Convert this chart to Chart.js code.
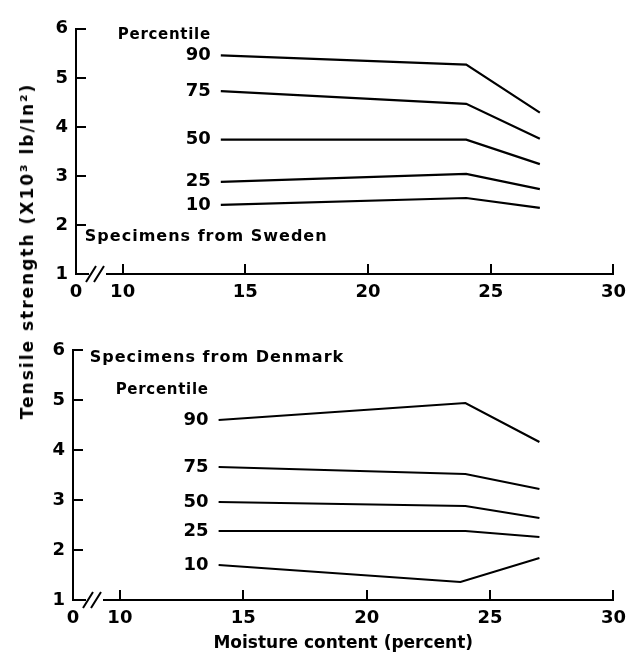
<!DOCTYPE html>
<html>
<head>
<meta charset="utf-8">
<script src="https://cdn.jsdelivr.net/npm/chart.js@4"></script>
<style>
  body { margin: 0; background: #fff; }
  #page { position: relative; width: 644px; height: 656px; }
  .box { position: absolute; left: 0; width: 644px; }
  #ytitle {
    position: absolute; left: 27px; top: 251px;
    transform: translate(-50%, -50%) rotate(-90deg);
    white-space: nowrap;
    font: bold 17px "DejaVu Sans", sans-serif;
    letter-spacing: 2px;
    color: #000;
  }
</style>
</head>
<body>
<div id="page">
  <div class="box" style="top:0;height:310px"><canvas id="sweden"></canvas></div>
  <div class="box" style="top:310px;height:346px"><canvas id="denmark"></canvas></div>
  <div id="ytitle">Tensile strength (X10³ lb/In²)</div>
</div>
<script>
// moisture content (percent) at which the percentile lines are given
const moisture = [14, 24, 27];
const moistureDk10 = [14, 23.8, 27];
const percentiles = ["90", "75", "50", "25", "10"];

// Sweden, tensile strength x10^3 lb/in^2
const swe90 = [5.46, 5.27, 4.29];
const swe75 = [4.73, 4.47, 3.76];
const swe50 = [3.74, 3.74, 3.24];
const swe25 = [2.88, 3.04, 2.73];
const swe10 = [2.41, 2.55, 2.35];

// Denmark
const den90 = [4.60, 4.94, 4.16];
const den75 = [3.66, 3.52, 3.22];
const den50 = [2.96, 2.88, 2.64];
const den25 = [2.38, 2.38, 2.26];
const den10 = [1.70, 1.36, 1.84];

const xTicks = [10, 15, 20, 25, 30];
const xMin = 8.1;   // shown as "0" behind the axis break
const yTicks = [1, 2, 3, 4, 5, 6];

const FONT = '"DejaVu Sans", sans-serif';

function toPoints(xs, ys) {
  return ys.map((y, i) => ({ x: xs[i], y: y }));
}

function makeSets(series, xsList) {
  return series.map((s, i) => ({
    label: percentiles[i],
    data: toPoints(xsList[i], s),
    borderColor: "#000",
    borderWidth: 2.2,
    pointRadius: 0,
    fill: false,
    tension: 0
  }));
}

// percentile numbers, headings and the axis break
const notes = {
  id: "notes",
  afterDraw(chart, args, opts) {
    const ctx = chart.ctx;
    const xs = chart.scales.x, ys = chart.scales.y;
    ctx.save();
    ctx.fillStyle = "#000";
    ctx.textBaseline = "middle";

    // percentile numbers at the start of each line
    ctx.font = "bold 18px " + FONT;
    ctx.textAlign = "right";
    let startX = 0;
    chart.data.datasets.forEach((ds, i) => {
      const p = chart.getDatasetMeta(i).data[0];
      startX = p.x;
      ctx.fillText(ds.label, p.x - 10, p.y);
    });

    ctx.font = "bold 15px " + FONT;
    ctx.letterSpacing = "0.7px";
    ctx.fillText("Percentile", startX - 10, ys.getPixelForValue(opts.percentileY));

    ctx.font = "bold 16px " + FONT;
    ctx.letterSpacing = "1px";
    ctx.textAlign = "left";
    ctx.fillText(opts.heading, xs.getPixelForValue(opts.headX), ys.getPixelForValue(opts.headY));

    // axis break  //
    const ay = xs.top;
    const a0 = chart.chartArea.left;
    ctx.fillStyle = "#fff";
    ctx.fillRect(a0 + 13, ay - 3, 17, 6);
    ctx.strokeStyle = "#000";
    ctx.lineWidth = 2;
    ctx.beginPath();
    ctx.moveTo(a0 + 10, ay + 8); ctx.lineTo(a0 + 20, ay - 8);
    ctx.moveTo(a0 + 18, ay + 8); ctx.lineTo(a0 + 28, ay - 8);
    ctx.stroke();
    ctx.restore();
  }
};

function makeChart(id, sets, o) {
  return new Chart(document.getElementById(id), {
    type: "line",
    data: { datasets: sets },
    options: {
      responsive: true,
      maintainAspectRatio: false,
      animation: false,
      layout: { padding: { top: o.top, right: o.right, left: 0, bottom: 0 } },
      plugins: {
        legend: { display: false },
        tooltip: { enabled: false },
        notes: o.notes
      },
      scales: {
        x: {
          type: "linear",
          min: xMin,
          max: 30,
          afterBuildTicks: s => { s.ticks = [{ value: xMin }].concat(xTicks.map(v => ({ value: v }))); },
          afterFit: s => { s.height = o.xh; },
          ticks: {
            color: "#000",
            font: { family: FONT, size: 18, weight: "bold" },
            padding: 18,
            maxRotation: 0,
            autoSkip: false,
            callback: v => (v === xMin ? "0" : String(v))
          },
          grid: { drawOnChartArea: false, drawTicks: true, tickLength: -10, color: "#000", lineWidth: 2 },
          border: { display: true, color: "#000", width: 2 },
          title: o.xtitle
        },
        y: {
          min: 1,
          max: 6,
          afterBuildTicks: s => { s.ticks = yTicks.map(v => ({ value: v })); },
          afterFit: s => { s.width = o.yw; },
          ticks: {
            color: "#000",
            font: { family: FONT, size: 18, weight: "bold" },
            padding: 18
          },
          grid: { drawOnChartArea: false, drawTicks: true, tickLength: -10, color: "#000", lineWidth: 2 },
          border: { display: true, color: "#000", width: 2 }
        }
      }
    },
    plugins: [notes]
  });
}

makeChart("sweden",
  makeSets([swe90, swe75, swe50, swe25, swe10], [moisture, moisture, moisture, moisture, moisture]),
  {
    top: 22, right: 17, yw: 76, xh: 36,
    xtitle: { display: false },
    notes: { heading: "Specimens from Sweden", headX: 8.46, headY: 1.75, percentileY: 5.88 }
  });

makeChart("denmark",
  makeSets([den90, den75, den50, den25, den10], [moisture, moisture, moisture, moisture, moistureDk10]),
  {
    top: 40, right: 20, yw: 73, xh: 56,
    xtitle: {
      display: true,
      text: "Moisture content (percent)",
      color: "#000",
      font: { family: FONT, size: 17, weight: "bold" },
      padding: { top: 0, bottom: 2 }
    },
    notes: { heading: "Specimens from Denmark", headX: 8.78, headY: 5.84, percentileY: 5.2 }
  });
</script>
</body>
</html>
